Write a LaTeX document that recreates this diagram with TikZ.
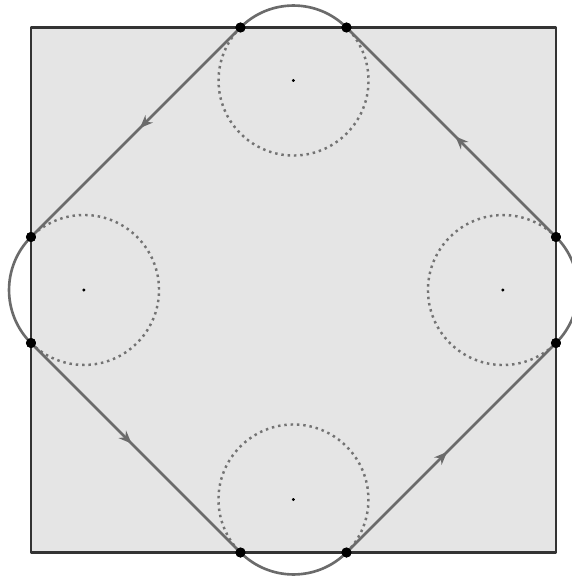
\documentclass[tikz,border=0pt]{standalone}
\usetikzlibrary{arrows.meta,decorations.markings}
\begin{document}
\begin{tikzpicture}[line join=round,
    contact/.style={circle, fill=black, inner sep=0pt, minimum size=0.2cm},
    centre/.style={circle, fill=black, inner sep=0pt, minimum size=0.06cm},
    loop path/.style={draw=black!58, line width=1.5pt},
    hidden arc/.style={draw=black!55, line width=1.4pt, dash pattern=on 1.4pt off 2.2pt},
    mid arrow/.style={postaction={decorate}, decoration={markings,
        mark=at position 0.48 with {\arrow{Stealth[length=0.26cm, width=0.21cm]}}}}]
        \useasboundingbox (-5.87,-5.74) rectangle (5.57,5.8);

        % table
        \draw[fill=black!10, draw=black!80, line width=1.7pt] (-5.25,-5.25) rectangle (5.25,5.25);

        % circle centres
        \node[centre] (c1) at (0,4.19) {};
        \node[centre] (c2) at (-4.19,0) {};
        \node[centre] (c3) at (0,-4.19) {};
        \node[centre] (c4) at (4.19,0) {};

        % contact points
        \node[contact] (t1) at (-1.06,5.25) {};
        \node[contact] (t2) at (1.06,5.25) {};
        \node[contact] (l1) at (-5.25,1.06) {};
        \node[contact] (l2) at (-5.25,-1.06) {};
        \node[contact] (b1) at (-1.06,-5.25) {};
        \node[contact] (b2) at (1.06,-5.25) {};
        \node[contact] (r1) at (5.25,-1.06) {};
        \node[contact] (r2) at (5.25,1.06) {};

        % inner parts of the circles
        \path[hidden arc] (t1.center) arc[start angle=135, end angle=405, radius=1.5];
        \path[hidden arc] (l2.center) arc[start angle=225, end angle=495, radius=1.5];
        \path[hidden arc] (b2.center) arc[start angle=315, end angle=585, radius=1.5];
        \path[hidden arc] (r2.center) arc[start angle=45, end angle=315, radius=1.5];

        % outer parts of the circles
        \path[loop path] (t2.center) arc[start angle=45, end angle=135, radius=1.5];
        \path[loop path] (l1.center) arc[start angle=135, end angle=225, radius=1.5];
        \path[loop path] (b1.center) arc[start angle=225, end angle=315, radius=1.5];
        \path[loop path] (r1.center) arc[start angle=-45, end angle=45, radius=1.5];

        % straight parts
        \path[loop path, mid arrow] (t1.center) -- (l1.center);
        \path[loop path, mid arrow] (l2.center) -- (b1.center);
        \path[loop path, mid arrow] (b2.center) -- (r1.center);
        \path[loop path, mid arrow] (r2.center) -- (t2.center);

        % dots on top
        \foreach \p in {t1,t2,l1,l2,b1,b2,r1,r2}
            \fill (\p) circle (0.1);
        \foreach \p in {c1,c2,c3,c4}
            \fill (\p) circle (0.03);
\end{tikzpicture}
\end{document}
